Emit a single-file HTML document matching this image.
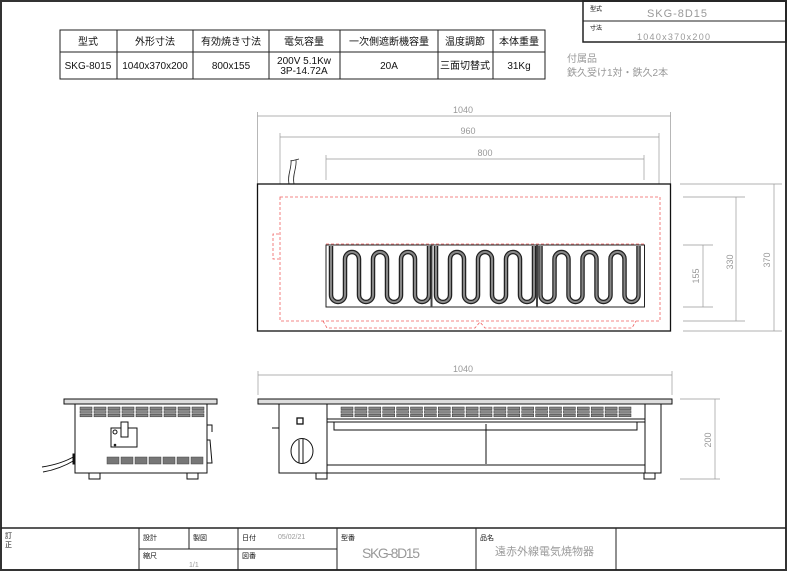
<!DOCTYPE html>
<html><head><meta charset="utf-8"><style>
html,body{margin:0;padding:0;background:#fff;}
svg{display:block;font-family:"Liberation Sans","Noto Sans CJK JP",sans-serif;}
.g{fill:#999;}
</style></head><body>
<svg id="s" width="787" height="571" viewBox="0 0 787 571" xmlns="http://www.w3.org/2000/svg">
<defs>
<g id="v"><rect x="0" y="0" width="12" height="2.6" fill="#888" stroke="#333" stroke-width="0.5"/><rect x="0" y="3.6" width="12" height="2.6" fill="#888" stroke="#333" stroke-width="0.5"/><rect x="0" y="7.2" width="12" height="2.6" fill="#888" stroke="#333" stroke-width="0.5"/></g>
<g id="lv"><rect x="0" y="0" width="12" height="7" fill="#777" stroke="#444" stroke-width="0.5"/></g>
<path id="coil" d="M331,246 L331,295 A7,7 0 0 0 345,295 L345,259 A7,7 0 0 1 359,259 L359,295 A7,7 0 0 0 373,295 L373,259 A7,7 0 0 1 387,259 L387,295 A7,7 0 0 0 401,295 L401,259 A7,7 0 0 1 415,259 L415,295 A7,7 0 0 0 429,295 L429,246" fill="none"/>
</defs>
<rect x="1" y="1" width="785" height="569" fill="none" stroke="#333" stroke-width="2"/>
<!-- top right box -->
<rect x="583" y="1" width="203" height="41" fill="none" stroke="#222" stroke-width="1.5"/>
<line x1="583" y1="21" x2="786" y2="21" stroke="#222"/>
<text x="590" y="11" font-size="6">型式</text>
<text x="647" y="17" font-size="11" class="g" textLength="60">SKG-8D15</text>
<text x="590" y="30" font-size="6">寸法</text>
<text x="637" y="40" font-size="9" class="g" textLength="73">1040x370x200</text>
<!-- spec table -->
<g stroke="#222" stroke-width="1" fill="none">
<rect x="60" y="30" width="485" height="49"/>
<line x1="60" y1="52" x2="545" y2="52"/>
<line x1="117" y1="30" x2="117" y2="79"/><line x1="193" y1="30" x2="193" y2="79"/><line x1="269" y1="30" x2="269" y2="79"/><line x1="340" y1="30" x2="340" y2="79"/><line x1="438" y1="30" x2="438" y2="79"/><line x1="493" y1="30" x2="493" y2="79"/>
</g>
<g font-size="10" text-anchor="middle" fill="#111">
<text x="88" y="45">型式</text><text x="155" y="45">外形寸法</text><text x="231" y="45">有効焼き寸法</text><text x="304" y="45">電気容量</text><text x="389" y="45">一次側遮断機容量</text><text x="465" y="45">温度調節</text><text x="519" y="45">本体重量</text>
<text x="88" y="69">SKG-8015</text><text x="155" y="69">1040x370x200</text><text x="231" y="69">800x155</text>
<text x="304" y="64">200V 5.1Kw</text><text x="304" y="74">3P-14.72A</text>
<text x="389" y="69">20A</text><text x="465" y="69">三面切替式</text><text x="519" y="69">31Kg</text>
</g>
<text x="567" y="62" font-size="10" class="g">付属品</text>
<text x="567" y="76" font-size="10" class="g">鉄久受け1対・鉄久2本</text>
<!-- top view dims -->
<g stroke="#999" stroke-width="0.7" fill="none">
<line x1="257.5" y1="116" x2="670.5" y2="116"/><line x1="257.5" y1="112" x2="257.5" y2="184"/><line x1="670.5" y1="112" x2="670.5" y2="184"/>
<line x1="280" y1="137" x2="659" y2="137"/><line x1="280" y1="133" x2="280" y2="184"/><line x1="659" y1="133" x2="659" y2="184"/>
<line x1="326" y1="159" x2="644" y2="159"/><line x1="326" y1="155" x2="326" y2="180"/><line x1="644" y1="155" x2="644" y2="180"/>
<line x1="680" y1="184" x2="782" y2="184"/><line x1="683" y1="331" x2="782" y2="331"/><line x1="774" y1="184" x2="774" y2="331"/>
<line x1="683" y1="197" x2="745" y2="197"/><line x1="683" y1="321" x2="745" y2="321"/><line x1="736" y1="197" x2="736" y2="321"/>
<line x1="683" y1="245" x2="713" y2="245"/><line x1="683" y1="307" x2="713" y2="307"/><line x1="703" y1="245" x2="703" y2="307"/>
<line x1="258" y1="375" x2="672" y2="375"/><line x1="258" y1="371" x2="258" y2="395"/><line x1="672" y1="371" x2="672" y2="395"/>
<line x1="680" y1="399" x2="720" y2="399"/><line x1="680" y1="479" x2="720" y2="479"/><line x1="715" y1="399" x2="715" y2="479"/>
</g>
<g font-size="9" class="g" text-anchor="middle">
<text x="463" y="113">1040</text><text x="468" y="134">960</text><text x="485" y="156">800</text><text x="463" y="372">1040</text>
<text transform="translate(770,260) rotate(-90)">370</text>
<text transform="translate(733,262) rotate(-90)">330</text>
<text transform="translate(699,276) rotate(-90)">155</text>
<text transform="translate(711,440) rotate(-90)">200</text>
</g>
<!-- top view body -->
<path d="M289,184 C287,175 292,168 291,160 M294,184 C292,175 297,168 296,160 M291,161 L299,159" stroke="#222" fill="none" stroke-width="0.8"/>
<rect x="257.5" y="184" width="413" height="147" fill="none" stroke="#111" stroke-width="1.3"/>
<g stroke="#f06060" stroke-width="0.8" fill="none" stroke-dasharray="3,2">
<rect x="280" y="197" width="380" height="124"/>
<path d="M323,321 L327,328 L475,328 L480,322 L485,328 L632,328 L636,321"/>
<path d="M279,234 L273,234 L273,259 L279,259"/>
<line x1="326" y1="244" x2="645" y2="244"/>
</g>
<rect x="326" y="245" width="318.5" height="62" fill="none" stroke="#222" stroke-width="1"/>
<line x1="431.5" y1="245" x2="431.5" y2="307" stroke="#444" stroke-width="2"/>
<line x1="537" y1="245" x2="537" y2="307" stroke="#444" stroke-width="2"/>
<g>
<use href="#coil" stroke="#222" stroke-width="4.5"/><use href="#coil" stroke="#888" stroke-width="2"/>
<g transform="translate(105,0)"><use href="#coil" stroke="#222" stroke-width="4.5"/><use href="#coil" stroke="#888" stroke-width="2"/></g>
<g transform="translate(209.5,0)"><use href="#coil" stroke="#222" stroke-width="4.5"/><use href="#coil" stroke="#888" stroke-width="2"/></g>
</g>
<!-- side view -->
<g stroke="#111" stroke-width="1" fill="none">
<rect x="64" y="399" width="153" height="5" fill="#ddd"/>
<rect x="75" y="404" width="132" height="69"/>
<rect x="111" y="428" width="26" height="19"/>
<rect x="121" y="422" width="7" height="15" fill="#fff"/>
<circle cx="115" cy="432" r="2"/><circle cx="115" cy="445" r="0.8"/>
<rect x="89" y="473" width="11" height="6"/><rect x="187" y="473" width="11" height="6"/>
<path d="M207,425 L212,425 L212,432 M207,440 L210,440 L212,463 L207,463"/>
<path d="M75,456 C65,462 55,465 42,467 M75,460 C65,466 55,470 43,472"/>
<rect x="73" y="454" width="2" height="10" fill="#111"/>
</g>
<g id="sv"></g>
<!-- front view -->
<g stroke="#111" stroke-width="1" fill="none">
<rect x="258" y="399" width="414" height="5" fill="#ddd"/>
<rect x="279" y="404" width="382" height="69"/>
<line x1="327" y1="404" x2="327" y2="473"/>
<line x1="645" y1="404" x2="645" y2="473"/>
<line x1="327" y1="419" x2="645" y2="419"/><line x1="327" y1="422" x2="645" y2="422"/>
<path d="M334,422 L334,430 L637,430 L637,422"/>
<line x1="486" y1="424" x2="486" y2="464"/>
<line x1="327" y1="465" x2="645" y2="465"/>
<rect x="297" y="418" width="6" height="6" stroke-width="1.3"/>
<ellipse cx="302" cy="451" rx="11" ry="12.5"/>
<line x1="299" y1="440" x2="299" y2="463"/><line x1="303" y1="439" x2="303" y2="463"/>
<line x1="272" y1="428" x2="279" y2="428"/>
<rect x="316" y="473" width="11" height="6"/><rect x="644" y="473" width="11" height="6"/>
</g>
<!-- title block -->
<g stroke="#222" stroke-width="1" fill="none">
<line x1="1" y1="528" x2="786" y2="528" stroke-width="1.5"/>
<line x1="139" y1="528" x2="139" y2="570"/><line x1="189" y1="528" x2="189" y2="549"/><line x1="238" y1="528" x2="238" y2="570"/>
<line x1="337" y1="528" x2="337" y2="570"/><line x1="476" y1="528" x2="476" y2="570"/><line x1="616" y1="528" x2="616" y2="570"/>
<line x1="139" y1="549" x2="337" y2="549"/>
</g>
<g font-size="7" fill="#111">
<text x="5" y="538">訂</text><text x="5" y="547">正</text>
<text x="143" y="540">設計</text><text x="193" y="540">製図</text><text x="242" y="540">日付</text>
<text x="341" y="540">型番</text><text x="480" y="540">品名</text>
<text x="143" y="558">縮尺</text><text x="242" y="558">図番</text>
</g>
<text x="278" y="539" font-size="7" class="g">05/02/21</text>
<text x="189" y="567" font-size="7" class="g">1/1</text>
<text x="362" y="558" font-size="14" class="g" textLength="58">SKG-8D15</text>
<text x="495" y="555" font-size="11" class="g">遠赤外線電気焼物器</text>
<script>
var s=document.getElementById('sv'),ns='http://www.w3.org/2000/svg';
function u(id,x,y){var e=document.createElementNS(ns,'use');e.setAttribute('href','#'+id);e.setAttribute('x',x);e.setAttribute('y',y);s.appendChild(e);}
for(var i=0;i<9;i++)u('v',80+i*14,407);
for(var i=0;i<7;i++)u('lv',107+i*14,457);
for(var i=0;i<21;i++)u('v',341+i*13.9,407);
</script>
</svg>
</body></html>
